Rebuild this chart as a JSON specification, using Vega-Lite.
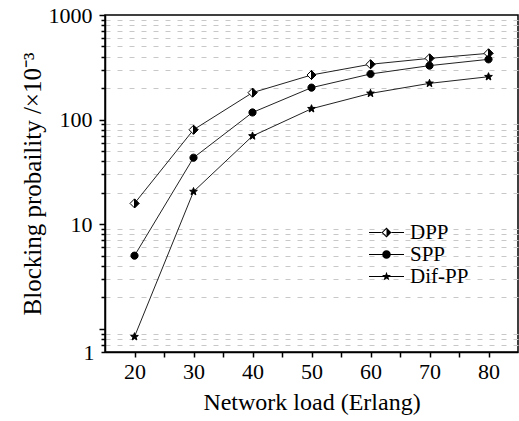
{
  "$schema": "https://vega.github.io/schema/vega-lite/v6.json",
  "width": 413,
  "height": 337,
  "autosize": "none",
  "padding": {"left": 105, "top": 15, "right": 1, "bottom": 69},
  "background": "white",
  "config": {
    "font": "Liberation Serif",
    "view": {"stroke": "black", "strokeWidth": 1.5}
  },
  "data": {
    "values": [
      {"series": "DPP", "load": 20, "bp": 15.8},
      {"series": "DPP", "load": 30, "bp": 80},
      {"series": "DPP", "load": 40, "bp": 181},
      {"series": "DPP", "load": 50, "bp": 267},
      {"series": "DPP", "load": 60, "bp": 338},
      {"series": "DPP", "load": 70, "bp": 385},
      {"series": "DPP", "load": 80, "bp": 430},
      {"series": "SPP", "load": 20, "bp": 5.0},
      {"series": "SPP", "load": 30, "bp": 43.2},
      {"series": "SPP", "load": 40, "bp": 117},
      {"series": "SPP", "load": 50, "bp": 202},
      {"series": "SPP", "load": 60, "bp": 273},
      {"series": "SPP", "load": 70, "bp": 328},
      {"series": "SPP", "load": 80, "bp": 377},
      {"series": "Dif-PP", "load": 20, "bp": 0.84},
      {"series": "Dif-PP", "load": 30, "bp": 20.5},
      {"series": "Dif-PP", "load": 40, "bp": 69.7},
      {"series": "Dif-PP", "load": 50, "bp": 127},
      {"series": "Dif-PP", "load": 60, "bp": 178},
      {"series": "Dif-PP", "load": 70, "bp": 222},
      {"series": "Dif-PP", "load": 80, "bp": 257}
    ]
  },
  "encoding": {
    "x": {
      "field": "load",
      "type": "quantitative",
      "scale": {"domain": [15, 85], "nice": false, "zero": false},
      "axis": {
        "values": [20, 25, 30, 35, 40, 45, 50, 55, 60, 65, 70, 75, 80],
        "labelExpr": "datum.value % 10 === 0 ? datum.label : ''",
        "title": "Network load (Erlang)",
        "grid": false,
        "tickSize": 5,
        "tickWidth": 1.5,
        "tickColor": "black",
        "domainColor": "black",
        "domainWidth": 1.5,
        "labelFont": "Liberation Serif",
        "labelFontSize": 22,
        "labelColor": "black",
        "labelPadding": 4,
        "labelFlush": false,
        "labelOverlap": false,
        "titleFont": "Liberation Serif",
        "titleFontSize": 24,
        "titleFontWeight": "normal",
        "titleColor": "black",
        "titlePadding": 8
      }
    },
    "y": {
      "field": "bp",
      "type": "quantitative",
      "scale": {"type": "log", "domain": [0.6, 1000], "nice": false},
      "axis": {
        "values": [0.6, 0.7, 0.8, 0.9, 1, 2, 3, 4, 5, 6, 7, 8, 9, 10, 20, 30, 40, 50, 60, 70, 80, 90, 100, 200, 300, 400, 500, 600, 700, 800, 900, 1000],
        "format": "d",
        "labelExpr": "datum.value === 0.6 ? '1' : (datum.value === 10 || datum.value === 100 || datum.value === 1000) ? datum.label : ''",
        "title": "Blocking probaility /×10⁻³",
        "grid": true,
        "gridDash": [5, 7],
        "gridColor": "#c8c8c8",
        "gridWidth": 1,
        "gridOpacity": {"condition": {"test": "datum.value === 0.6 || datum.value === 1 || datum.value === 10 || datum.value === 100 || datum.value === 1000", "value": 0}, "value": 1},
        "tickSize": {"condition": {"test": "datum.value === 1 || datum.value === 10 || datum.value === 100 || datum.value === 1000", "value": 6}, "value": 4},
        "tickWidth": 1.5,
        "tickColor": "black",
        "domainColor": "black",
        "domainWidth": 1.5,
        "labelFont": "Liberation Serif",
        "labelFontSize": 22,
        "labelColor": "black",
        "labelPadding": 7,
        "labelFlush": false,
        "labelOverlap": false,
        "titleFont": "Liberation Serif",
        "titleFontSize": 25,
        "titleFontWeight": "normal",
        "titleColor": "black",
        "titlePadding": 3
      }
    }
  },
  "layer": [
    {
      "mark": {"type": "line", "color": "#222222", "strokeWidth": 1},
      "encoding": {"detail": {"field": "series"}}
    },
    {
      "transform": [{"filter": "datum.series === 'DPP'"}],
      "mark": {"type": "point", "shape": "diamond", "filled": true, "fill": "white", "stroke": "black", "strokeWidth": 1, "size": 81, "opacity": 1}
    },
    {
      "transform": [{"filter": "datum.series === 'DPP'"}],
      "mark": {"type": "point", "shape": "M0,-1L1,0L0,1Z", "filled": true, "fill": "black", "stroke": "black", "strokeWidth": 1, "size": 81, "opacity": 1}
    },
    {
      "transform": [{"filter": "datum.series === 'SPP'"}],
      "mark": {"type": "point", "shape": "M-0.8,0A0.8,0.8 0 1,1 0.8,0A0.8,0.8 0 1,1 -0.8,0Z", "filled": true, "fill": "black", "stroke": "black", "strokeWidth": 1, "size": 81, "opacity": 1}
    },
    {
      "transform": [{"filter": "datum.series === 'Dif-PP'"}],
      "mark": {"type": "point", "shape": "M0,-0.9L0.223,-0.307L0.856,-0.278L0.361,0.117L0.529,0.728L0,0.38L-0.529,0.728L-0.361,0.117L-0.856,-0.278L-0.223,-0.307Z", "filled": true, "fill": "black", "stroke": "black", "strokeWidth": 1, "size": 81, "opacity": 1}
    },
    {
      "mark": {"type": "point", "filled": true, "fill": "black", "stroke": "black", "strokeWidth": 1, "size": 0, "opacity": 0},
      "encoding": {
        "shape": {
          "field": "series",
          "type": "nominal",
          "scale": {
            "domain": ["DPP", "SPP", "Dif-PP"],
            "range": [
              "M-3.5,-0.1L-1,-0.1L-1,0.1L-3.5,0.1ZM1,-0.1L3.5,-0.1L3.5,0.1L1,0.1ZM0,-1L1,0L0,1ZM0,-1L-1,0L0,1ZM0,-0.72L0,0.72L-0.72,0Z",
              "M-3.5,-0.1L3.5,-0.1L3.5,0.1L-3.5,0.1ZM-0.85,0A0.85,0.85 0 1,1 0.85,0A0.85,0.85 0 1,1 -0.85,0Z",
              "M-3.5,-0.1L3.5,-0.1L3.5,0.1L-3.5,0.1ZM0,-0.95L0.235,-0.323L0.903,-0.294L0.381,0.124L0.558,0.769L0,0.4L-0.558,0.769L-0.381,0.124L-0.903,-0.294L-0.235,-0.323Z"
            ]
          },
          "legend": {
            "orient": "none",
            "legendX": 271,
            "legendY": 207,
            "title": null,
            "padding": 0,
            "symbolSize": 100,
            "symbolOpacity": 1,
            "symbolFillColor": "black",
            "symbolStrokeColor": "black",
            "symbolStrokeWidth": 1,
            "labelOffset": 13,
            "labelFont": "Liberation Serif",
            "labelFontSize": 21,
            "labelColor": "black",
            "rowPadding": 0
          }
        }
      }
    }
  ]
}
